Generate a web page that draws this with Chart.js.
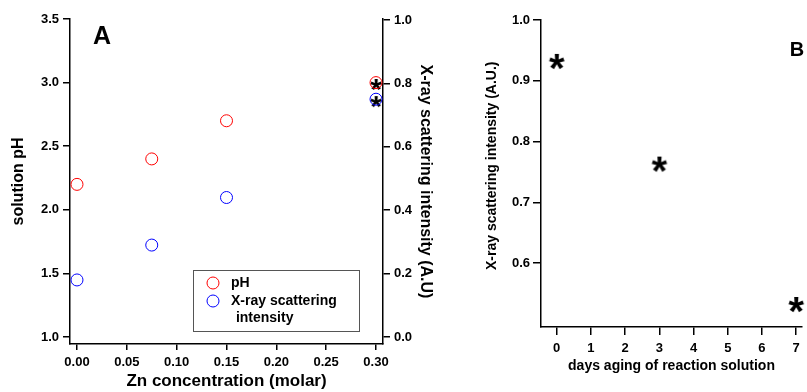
<!DOCTYPE html>
<html>
<head>
<meta charset="utf-8">
<script src="https://cdn.jsdelivr.net/npm/chart.js@4.4.1/dist/chart.umd.min.js"></script>
<style>
  html, body { margin: 0; padding: 0; background: #fff; }
  #wrap { position: relative; width: 807px; height: 392px; overflow: hidden; }
  #chart_a { position: absolute; left: 0; top: 0; }
  #chart_b { position: absolute; left: 470px; top: 0; }
</style>
</head>
<body>
<div id="wrap">
  <canvas id="chart_a" width="445" height="392"></canvas>
  <canvas id="chart_b" width="337" height="392"></canvas>
</div>
<script>
// panel A data
const znConc = [0, 0.075, 0.15, 0.30];
const phValues = [2.2, 2.4, 2.7, 3.0];
const xrayValues = [0.18, 0.29, 0.44, 0.75];
const starConc = [0.30, 0.30];
const starValues = [0.795, 0.741];
const znTicks = [0, 0.05, 0.10, 0.15, 0.20, 0.25, 0.30];
const phTicks = [1.0, 1.5, 2.0, 2.5, 3.0, 3.5];
const xrayTicks = [0.0, 0.2, 0.4, 0.6, 0.8, 1.0];
const legendLabels = ["pH", "X-ray scattering", " intensity"];

// panel B data
const agingDays = [0, 3, 7];
const agingIntensity = [0.931, 0.762, 0.531];
const dayTicks = [0, 1, 2, 3, 4, 5, 6, 7];
const intensityTicks = [0.6, 0.7, 0.8, 0.9, 1.0];

Chart.defaults.font.family = "'Liberation Sans', Arial, sans-serif";
Chart.defaults.color = "#000";

//asterisk glyph drawn on a small canvas, used as point style
function makeAsterisk(size, fontSize){
  const c = document.createElement("canvas");
  c.width = size; c.height = size;
  const g = c.getContext("2d");
  g.font = `bold ${fontSize}px 'Liberation Sans', Arial, sans-serif`;
  g.fillStyle = "#000";
  g.textAlign = "center";
  g.textBaseline = "alphabetic";
  const m = g.measureText("*");
  const h = m.actualBoundingBoxAscent + m.actualBoundingBoxDescent;
  g.fillText("*", size / 2, size / 2 + h / 2 - m.actualBoundingBoxDescent);
  return c;
}
const starSmall = makeAsterisk(20, 30);
const starBig = makeAsterisk(26, 40);

function fixedTicks(list){
  return (scale) => { scale.ticks = list.map(v => ({ value: v })); };
}

function axis(extra){
  return Object.assign({
    type: "linear",
    grid: { drawOnChartArea: false, drawTicks: true, color: "#000", lineWidth: 1.5 },
    border: { display: true, color: "#000", width: 1.5 }
  }, extra);
}

const tickFont = { size: 13, weight: "bold" };

const panelAExtras = {
  id: "panelAExtras",
  afterDraw(chart){
    const ctx = chart.ctx;
    ctx.save();
    ctx.fillStyle = "#000";
    ctx.font = "bold 25px 'Liberation Sans', Arial, sans-serif";
    ctx.textAlign = "center";
    ctx.textBaseline = "middle";
    ctx.fillText("A", 102, 37);

    //legend box
    ctx.strokeStyle = "#555";
    ctx.lineWidth = 1;
    ctx.strokeRect(193.5, 270.5, 166, 61);
    const ds = chart.data.datasets;
    [[ds[0].borderColor, 283], [ds[1].borderColor, 301]].forEach(([col, y]) => {
      ctx.strokeStyle = col;
      ctx.beginPath();
      ctx.arc(213, y, 6, 0, Math.PI * 2);
      ctx.stroke();
    });
    ctx.font = "bold 14px 'Liberation Sans', Arial, sans-serif";
    ctx.textAlign = "left";
    ctx.fillText(legendLabels[0], 231, 283);
    ctx.fillText(legendLabels[1], 231, 301);
    ctx.fillText(legendLabels[2], 232, 318);
    ctx.restore();
  }
};

new Chart(document.getElementById("chart_a"), {
  type: "scatter",
  data: {
    datasets: [{
      label: "pH",
      data: znConc.map((x, i) => ({ x: x, y: phValues[i] })),
      yAxisID: "yPh",
      pointStyle: "circle",
      pointRadius: 6,
      borderColor: "#ff0000",
      backgroundColor: "rgba(0,0,0,0)",
      borderWidth: 1,
      clip: false
    }, {
      label: "X-ray scattering intensity",
      data: znConc.map((x, i) => ({ x: x, y: xrayValues[i] })),
      yAxisID: "yXray",
      pointStyle: "circle",
      pointRadius: 6,
      borderColor: "#0000ff",
      backgroundColor: "rgba(0,0,0,0)",
      borderWidth: 1,
      clip: false
    }, {
      label: "aged",
      data: starConc.map((x, i) => ({ x: x, y: starValues[i] })),
      yAxisID: "yXray",
      pointStyle: starSmall,
      clip: false
    }]
  },
  options: {
    responsive: false,
    animation: false,
    layout: { padding: { top: 19, left: 0, right: 0, bottom: 0 } },
    plugins: { legend: { display: false }, tooltip: { enabled: false } },
    scales: {
      x: axis({
        position: "bottom",
        min: -0.00702, max: 0.30702,
        afterBuildTicks: fixedTicks(znTicks),
        afterFit: (s) => { s.height = 48; },
        grid: { drawOnChartArea: false, color: "#000", lineWidth: 1.5, tickLength: 6 },
        ticks: { font: tickFont, padding: 5, maxRotation: 0, callback: (v) => Number(v).toFixed(2) },
        title: { display: true, text: "Zn concentration (molar)", font: { size: 17, weight: "bold" }, padding: { top: 0, bottom: 0 } }
      }),
      yPh: axis({
        position: "left",
        min: 0.945, max: 3.5,
        afterBuildTicks: fixedTicks(phTicks),
        afterFit: (s) => { s.width = 70; },
        grid: { drawOnChartArea: false, color: "#000", lineWidth: 1.5, tickLength: 7 },
        ticks: { font: tickFont, padding: 4, callback: (v) => Number(v).toFixed(1) },
        title: { display: true, text: "solution pH", font: { size: 16, weight: "bold" }, padding: { top: 9, bottom: 0 } }
      }),
      yXray: axis({
        position: "right",
        min: -0.022, max: 1.003,
        afterBuildTicks: fixedTicks(xrayTicks),
        afterFit: (s) => { s.width = 62; },
        grid: { drawOnChartArea: false, color: "#000", lineWidth: 1.5, tickLength: 7 },
        ticks: { font: tickFont, padding: 4, callback: (v) => Number(v).toFixed(1) },
        title: { display: true, text: "X-ray scattering intensity (A.U)", font: { size: 16, weight: "bold" }, padding: { top: 10, bottom: 0 } }
      })
    }
  },
  plugins: [panelAExtras]
});

const panelBExtras = {
  id: "panelBExtras",
  afterDraw(chart){
    const ctx = chart.ctx;
    ctx.save();
    ctx.fillStyle = "#000";
    ctx.font = "bold 20px 'Liberation Sans', Arial, sans-serif";
    ctx.textAlign = "center";
    ctx.textBaseline = "middle";
    ctx.fillText("B", 797 - 470, 50);
    ctx.restore();
  }
};

new Chart(document.getElementById("chart_b"), {
  type: "scatter",
  data: {
    datasets: [{
      label: "X-ray scattering intensity",
      data: agingDays.map((d, i) => ({ x: d, y: agingIntensity[i] })),
      pointStyle: starBig,
      clip: false
    }]
  },
  options: {
    responsive: false,
    animation: false,
    layout: { padding: { top: 20, left: 0, right: 0, bottom: 0 } },
    plugins: { legend: { display: false }, tooltip: { enabled: false } },
    scales: {
      x: axis({
        position: "bottom",
        min: -0.46, max: 7.17,
        afterBuildTicks: fixedTicks(dayTicks),
        afterFit: (s) => { s.height = 65; },
        grid: { drawOnChartArea: false, color: "#000", lineWidth: 1.5, tickLength: 8 },
        ticks: { font: tickFont, padding: 6, maxRotation: 0, callback: (v) => String(v) },
        title: { display: true, text: "days aging of reaction solution", font: { size: 14, weight: "bold" }, padding: { top: 0, bottom: 17 } }
      }),
      y: axis({
        position: "left",
        min: 0.4947, max: 1.0,
        afterBuildTicks: fixedTicks(intensityTicks),
        afterFit: (s) => { s.width = 71; },
        grid: { drawOnChartArea: false, color: "#000", lineWidth: 1.5, tickLength: 8 },
        ticks: { font: tickFont, padding: 3, callback: (v) => Number(v).toFixed(1) },
        // leading spaces nudge the rotated title up a little, as in the original
        title: { display: true, text: "    X-ray scattering intensity (A.U.)", font: { size: 14, weight: "bold" }, padding: { top: 14, bottom: 0 } }
      })
    }
  },
  plugins: [panelBExtras]
});
</script>
</body>
</html>
